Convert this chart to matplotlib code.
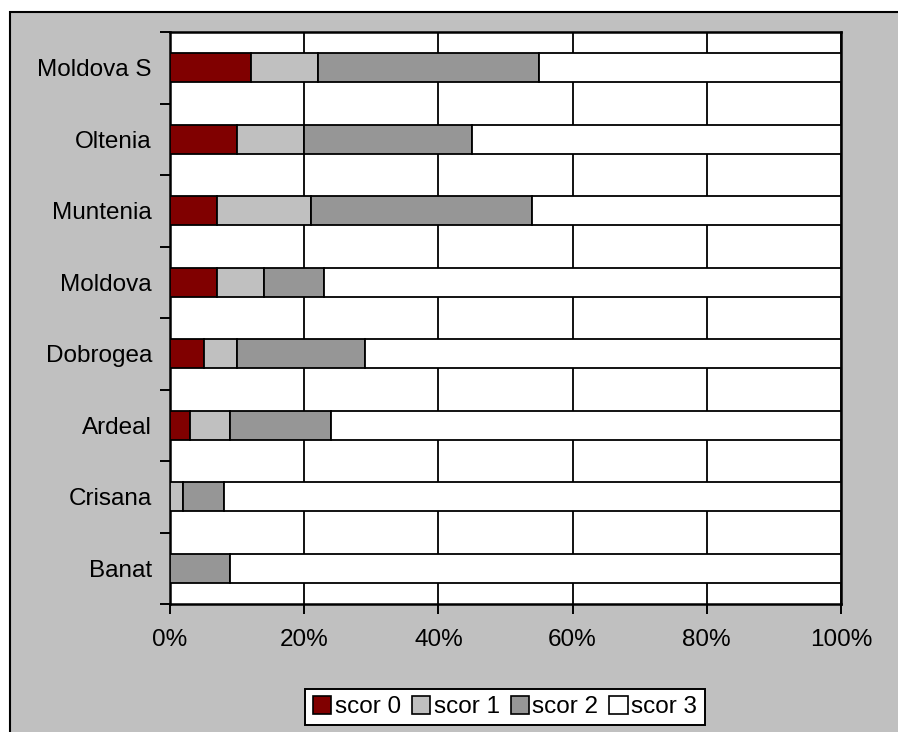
import numpy as np
import matplotlib.pyplot as plt
from matplotlib.patches import Rectangle, Patch

plt.rcParams['font.family'] = ['Liberation Sans', 'DejaVu Sans']

# regions, bottom to top as drawn on the y axis
regions = ['Banat', 'Crisana', 'Ardeal', 'Dobrogea', 'Moldova', 'Muntenia', 'Oltenia', 'Moldova S']
scor0 = [0, 0, 3, 5, 7, 7, 10, 12]
scor1 = [0, 2, 6, 5, 7, 14, 10, 10]
scor2 = [9, 6, 15, 19, 9, 33, 25, 33]
scor3 = [91, 92, 76, 71, 77, 46, 55, 45]
series = [scor0, scor1, scor2, scor3]
series_names = ['scor 0', 'scor 1', 'scor 2', 'scor 3']
colors = ['#800000', '#C0C0C0', '#969696', '#FFFFFF']
x_ticks = [0, 20, 40, 60, 80, 100]

W, H = 898, 732
fig = plt.figure(figsize=(W / 100, H / 100), dpi=100, facecolor='white')

# grey chart area with a black frame, running off the right and bottom edges
frame = Rectangle((10 / W, -0.05), 1.0, (H - 12) / H + 0.05,
                  transform=fig.transFigure, facecolor='#C0C0C0',
                  edgecolor='black', linewidth=1.5, zorder=-10)
fig.patches.append(frame)

ax = fig.add_axes([170 / W, (H - 604) / H, 671 / W, 572 / H])
ax.set_zorder(1)
ax.set_facecolor('white')

y = np.arange(len(regions))
totals = np.sum(series, axis=0)
left = np.zeros(len(regions))
for vals, name, col in zip(series, series_names, colors):
    pct = np.array(vals) / totals * 100
    ax.barh(y, pct, left=left, height=0.4, color=col, edgecolor='black',
            linewidth=1.3, label=name, zorder=3)
    left += pct

ax.set_xlim(0, 100)
ax.set_ylim(-0.5, len(regions) - 0.5)

ax.set_xticks(x_ticks)
ax.set_xticklabels([f'{t}%' for t in x_ticks])
ax.xaxis.grid(True, color='black', linewidth=1.3, zorder=0)
ax.set_axisbelow(True)

# category boundaries carry the tick marks, names sit in between
ax.set_yticks(np.arange(-0.5, len(regions)), labels=[])
ax.set_yticks(y, labels=regions, minor=True)
ax.tick_params(axis='y', which='major', length=7.5, width=1.4, direction='out')
ax.tick_params(axis='y', which='minor', length=0, pad=13, labelsize=17.5)
ax.tick_params(axis='x', length=7, width=1.4, direction='out', pad=11, labelsize=17.5)

for s in ax.spines.values():
    s.set_linewidth(1.8)
    s.set_color('black')

handles = [Patch(facecolor=c, edgecolor='black', linewidth=1.2) for c in colors]
leg = fig.legend(handles, series_names, loc='center', ncol=4,
                 bbox_to_anchor=(505 / W, 1 - 707 / H), fontsize=17.5,
                 frameon=True, fancybox=False, edgecolor='black', framealpha=1,
                 handlelength=0.75, handleheight=0.75, handletextpad=0.15,
                 columnspacing=0.45, borderpad=0.3, borderaxespad=0)
leg.get_frame().set_linewidth(1.4)
leg.get_frame().set_facecolor('white')

fig.savefig('out.png', dpi=100, facecolor=fig.get_facecolor())
